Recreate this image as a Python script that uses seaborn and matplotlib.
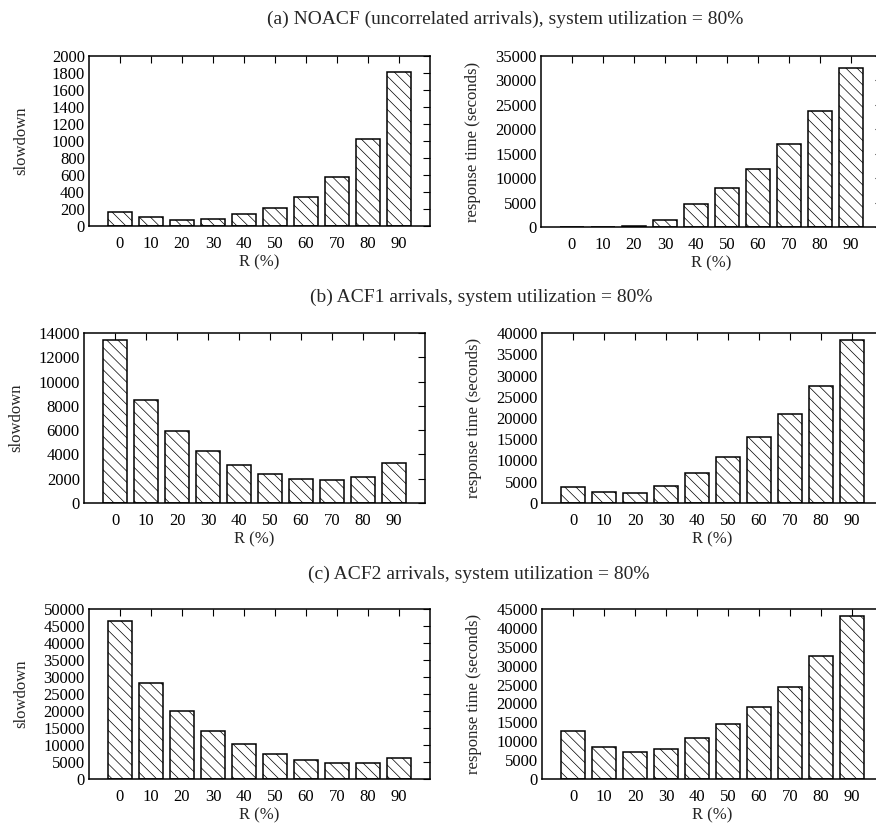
import matplotlib
matplotlib.use("Agg")
import matplotlib.pyplot as plt
import seaborn as sns
import numpy as np

R_labels = ["0", "10", "20", "30", "40", "50", "60", "70", "80", "90"]

noacf_slowdown = [168, 102, 70, 78, 137, 207, 340, 579, 1018, 1812]
noacf_resp = [60, 60, 200, 1500, 4700, 8050, 11950, 17000, 23650, 32450]
acf1_slowdown = [13450, 8510, 5930, 4250, 3160, 2420, 2000, 1890, 2170, 3270]
acf1_resp = [3700, 2680, 2430, 4080, 7140, 10820, 15530, 20940, 27450, 38430]
acf2_slowdown = [46350, 28100, 20040, 14250, 10220, 7370, 5600, 4620, 4620, 6090]
acf2_resp = [12640, 8400, 7070, 8050, 10960, 14500, 19010, 24310, 32450, 43230]

titles = ["(a) NOACF (uncorrelated arrivals), system utilization = 80%",
          "(b) ACF1 arrivals, system utilization = 80%",
          "(c) ACF2 arrivals, system utilization = 80%"]

sns.set_style("white")
plt.rcParams['font.family'] = ['Liberation Serif', 'DejaVu Serif']
plt.rcParams['hatch.linewidth'] = 0.5
FS = 12

W, H = 876, 823
fig = plt.figure(figsize=(W / 100, H / 100), dpi=100)

boxes = [
    [(89, 56, 226, noacf_slowdown, 2000, 200, "slowdown"),
     (541, 56, 227, noacf_resp, 35000, 5000, "response time (seconds)")],
    [(84, 333, 503, acf1_slowdown, 14000, 2000, "slowdown"),
     (542, 333, 503, acf1_resp, 40000, 5000, "response time (seconds)")],
    [(89, 609, 779, acf2_slowdown, 50000, 5000, "slowdown"),
     (542, 609, 779, acf2_resp, 45000, 5000, "response time (seconds)")],
]
axw = 341

for row in boxes:
    for (l, t, b, vals, ymax, ystep, ylabel) in row:
        ax = fig.add_axes([l / W, 1 - b / H, axw / W, (b - t) / H])
        sns.barplot(x=R_labels, y=vals, ax=ax, color="white", edgecolor="black",
                    linewidth=1.1, width=0.75, saturation=1)
        for p in ax.patches:
            p.set_hatch("\\\\\\")
        ax.set_xlim(-1, 10)
        ax.set_ylim(0, ymax)
        ax.set_yticks(np.arange(0, ymax + 1, ystep))
        ax.tick_params(axis="both", direction="in", length=5, width=0.8,
                       labelsize=FS, top=True, right=True, pad=3,
                       colors="black")
        ax.tick_params(axis="x", pad=7)
        for s in ax.spines.values():
            s.set_visible(True)
            s.set_color("black")
            s.set_linewidth(1.1)
        ax.set_xlabel("R (%)", fontsize=FS, labelpad=2)
        ax.set_ylabel(ylabel, fontsize=FS)
        ax.yaxis.set_label_coords(-0.175, 0.5)

fig.text(505 / W, 1 - 19 / H, titles[0], ha="center", va="center", fontsize=14)
fig.text(481 / W, 1 - 297 / H, titles[1], ha="center", va="center", fontsize=14)
fig.text(479 / W, 1 - 574 / H, titles[2], ha="center", va="center", fontsize=14)

fig.savefig("out.png", dpi=100, facecolor="white")
